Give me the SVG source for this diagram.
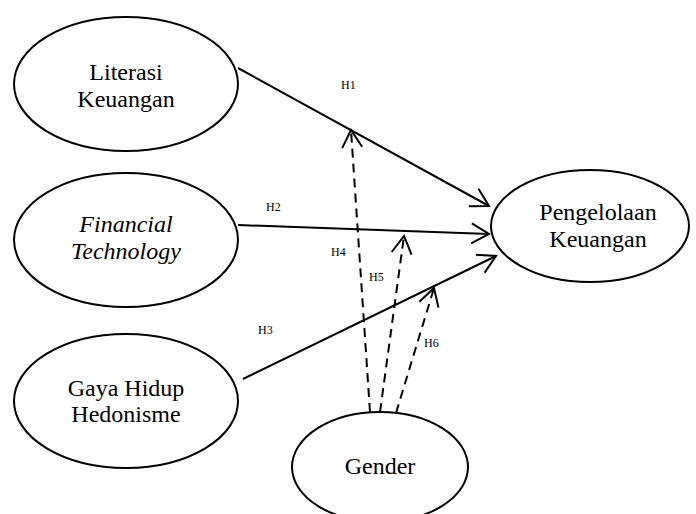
<svg xmlns="http://www.w3.org/2000/svg" width="696" height="514" viewBox="0 0 696 514">
<defs>
<style>
.node{fill:#fff;stroke:#000;stroke-width:2}
.t{font-family:"Liberation Serif","Times New Roman",serif;font-size:24px;fill:#000;text-anchor:middle}
.it{font-style:italic}
.lbl{font-family:"Liberation Serif","Times New Roman",serif;font-size:12px;fill:#000}
.e{fill:none;stroke:#000;stroke-width:2}
.d{stroke-dasharray:9 6}
</style>
<marker id="arr" markerUnits="userSpaceOnUse" markerWidth="40" markerHeight="40" refX="0" refY="0" orient="auto" overflow="visible">
<path d="M-17.5,-10 L0,0 L-17.5,10" fill="none" stroke="#000" stroke-width="2"/>
</marker>
</defs>
<rect width="696" height="514" fill="#fff"/>
<g id="connectors">
<line class="e" x1="238" y1="68" x2="489" y2="206" marker-end="url(#arr)"/>
<line class="e" x1="238" y1="225" x2="489" y2="234" marker-end="url(#arr)"/>
<line class="e" x1="243" y1="379" x2="496" y2="256" marker-end="url(#arr)"/>
<line class="e d" x1="370" y1="412" x2="351" y2="130" marker-end="url(#arr)"/>
<line class="e d" x1="380" y1="412" x2="404" y2="236" marker-end="url(#arr)"/>
<line class="e d" x1="396" y1="413" x2="434" y2="288" marker-end="url(#arr)"/>
<text class="lbl" x="341" y="89">H1</text>
<text class="lbl" x="266" y="211">H2</text>
<text class="lbl" x="258" y="334">H3</text>
<text class="lbl" x="331" y="256">H4</text>
<text class="lbl" x="369" y="281">H5</text>
<text class="lbl" x="424" y="347">H6</text>
</g>
<g id="literasi">
<ellipse class="node" cx="126" cy="84" rx="112" ry="67"/>
<text class="t" x="126" y="80">Literasi</text>
<text class="t" x="126" y="107">Keuangan</text>
</g>
<g id="fintech">
<ellipse class="node" cx="126" cy="240" rx="112" ry="67"/>
<text class="t it" x="126" y="232">Financial</text>
<text class="t it" x="126" y="259">Technology</text>
</g>
<g id="gaya">
<ellipse class="node" cx="126" cy="401" rx="112" ry="67"/>
<text class="t" x="126" y="396">Gaya Hidup</text>
<text class="t" x="126" y="422">Hedonisme</text>
</g>
<g id="pengelolaan">
<ellipse class="node" cx="590" cy="226" rx="99" ry="56"/>
<text class="t" x="598" y="220">Pengelolaan</text>
<text class="t" x="598" y="247">Keuangan</text>
</g>
<g id="gender">
<ellipse class="node" cx="380" cy="467" rx="88" ry="55"/>
<text class="t" x="380" y="474">Gender</text>
</g>
</svg>
